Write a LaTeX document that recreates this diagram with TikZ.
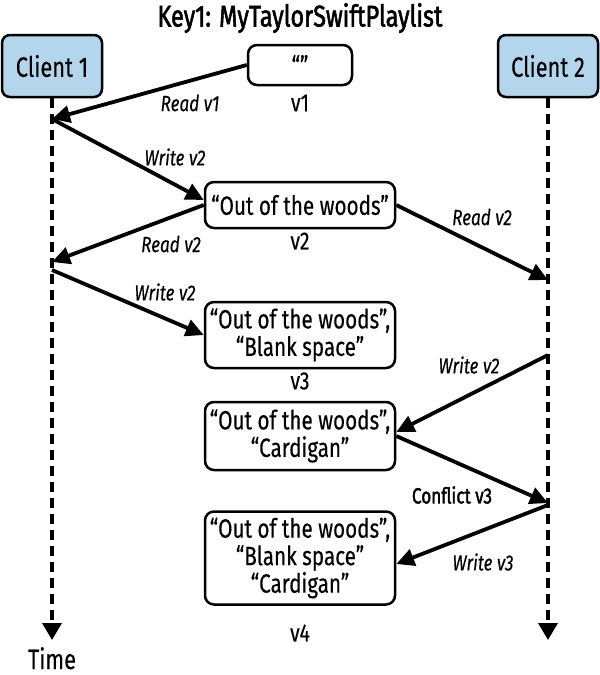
\documentclass[tikz,border=0pt]{standalone}
\usepackage{fontspec}
\setmainfont{Fira Sans}[FakeStretch=0.78,FakeBold=0.3]
\newfontfamily\medfont{Fira Sans}[FakeStretch=0.78,FakeBold=1.8]
\usetikzlibrary{arrows.meta}
\definecolor{clientblue}{RGB}{180,214,236}
\begin{document}
\begin{tikzpicture}[x=1pt,y=-1pt,
 client/.style={draw, line width=2.5pt, fill=clientblue, rounded corners=8pt, minimum width=100pt, minimum height=62pt, inner sep=0pt, font=\fontsize{28}{30}\selectfont},
 valbox/.style={draw, line width=2.5pt, rounded corners=9pt, minimum width=190pt, inner sep=0pt, align=center, font=\fontsize{26.5}{27.5}\selectfont},
 lbl/.style={font=\fontsize{22}{24}\selectfont\itshape},
 ver/.style={font=\fontsize{25}{27}\selectfont},
 msg/.style={line width=3.8pt, -{Triangle[length=18pt,width=17pt]}},
 life/.style={line width=3.4pt, dash pattern=on 10pt off 6pt, -{Triangle[length=17pt,width=19pt]}}
]
\useasboundingbox (0,0) rectangle (600,675);
\node[font=\medfont\fontsize{30}{32}\selectfont] (title) at (300,18) {Key1: MyTaylorSwiftPlaylist};
\node[client] (c1) at (52,66) {Client 1};
\node[client] (c2) at (548,66) {Client 2};
\coordinate (c1end) at (52,640);
\coordinate (c2end) at (548,640);
\draw[life] (c1.south) -- (c1end);
\draw[life] (c2.south) -- (c2end);
\node[font=\fontsize{28}{30}\selectfont, inner sep=0pt, anchor=base] (time) at (52,669) {Time};

\node[valbox, minimum width=104pt, minimum height=40pt] (b1) at (300,65) {“”};
\node[ver] (v1) at (300,103) {v1};
\node[valbox, minimum height=46pt] (b2) at (300,205) {“Out of the woods”};
\node[ver] (v2) at (300,241) {v2};
\node[valbox, minimum height=66pt] (b3) at (300,335) {“Out of the woods”,\\“Blank space”};
\node[ver] (v3) at (300,381) {v3};
\node[valbox, minimum height=68pt] (b4) at (300,436) {“Out of the woods”,\\“Cardigan”};
\node[valbox, minimum height=93pt] (b5) at (300,558) {“Out of the woods”,\\“Blank space”\\“Cardigan”};
\node[ver] (v4) at (300,633) {v4};

\coordinate (p1) at (52,119);
\coordinate (p3) at (52,262);
\coordinate (p4) at (52,270);
\coordinate (q1) at (548,280);
\coordinate (q2) at (548,355);
\coordinate (q3) at (548,503);
\coordinate (q4) at (548,505);

\draw[msg] (b1.west) -- (p1);
\draw[msg] (p1) -- ([yshift=5pt]b2.west);
\draw[msg] (b2.west) -- (p3);
\draw[msg] (b2.east) -- (q1);
\draw[msg] (p4) -- (b3.west);
\draw[msg] (q2) -- ([yshift=4pt]b4.east);
\draw[msg] (b4.east) -- (q3);
\draw[msg] (q4) -- ([yshift=-6pt]b5.east);

\node[lbl] (l1) at (190,103) {Read v1};
\node[lbl] (l2) at (175,157) {Write v2};
\node[lbl] (l3) at (171,244) {Read v2};
\node[lbl] (l4) at (482,217) {Read v2};
\node[lbl] (l5) at (165,292) {Write v2};
\node[lbl] (l6) at (469,365) {Write v2};
\node[font=\medfont\fontsize{22}{24}\selectfont] (l7) at (452,495) {Conflict v3};
\node[lbl] (l8) at (483,562) {Write v3};
\end{tikzpicture}
\end{document}
